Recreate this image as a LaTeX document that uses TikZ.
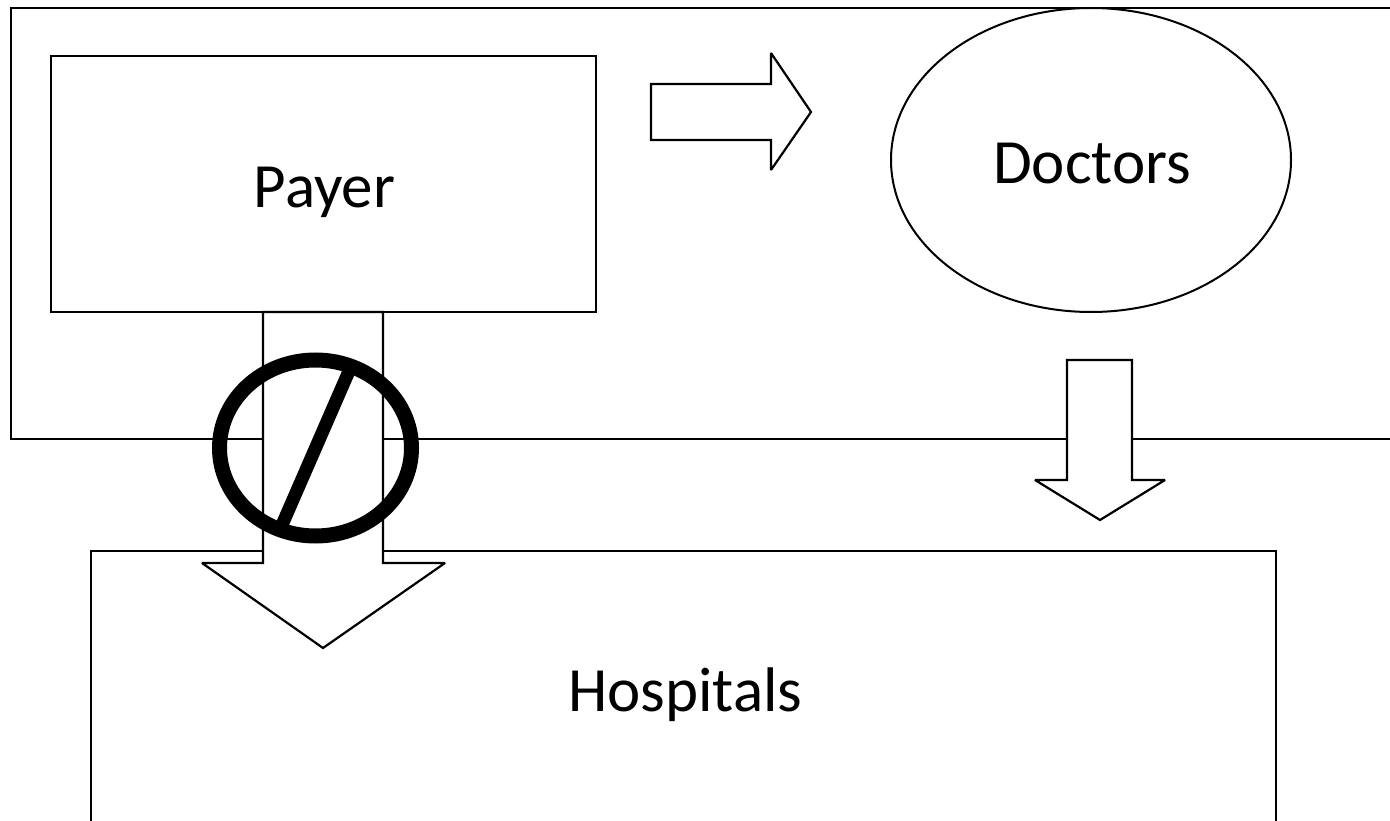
\documentclass[tikz,border=0pt]{standalone}
\usepackage{fontspec}
\setmainfont{Carlito}
\usetikzlibrary{shapes.geometric}
\newcommand{\dropby}[3]{\hspace*{#2pt}\raisebox{-#1pt}[0pt][0pt]{#3}}
\tikzset{
  box/.style={draw=black,line width=2.2pt,fill=white,rectangle,inner sep=0pt,font=\fontsize{63}{70}\selectfont},
  oval/.style={draw=black,line width=2pt,fill=white,ellipse,inner sep=0pt,font=\fontsize{63}{70}\selectfont},
  blockarrow/.style={draw=black,line width=2.2pt,fill=white,line join=miter,miter limit=3},
  forbid/.style={draw=black,line width=15pt}
}
\begin{document}
\begin{tikzpicture}[x=1pt,y=-1pt]
\useasboundingbox (0,0) rectangle (1390,821);
\clip (0,0) rectangle (1390,821);
\node[box,minimum width=1400pt,minimum height=431pt] (market) at (711,223.5) {};
\node[box,minimum width=1185pt,minimum height=278pt] (hospitals) at (683.5,690) {\dropby{21.5}{4}{Hospitals}};
\node[box,minimum width=545pt,minimum height=256pt] (payer) at (323.5,184) {\dropby{24}{2}{Payer}};
\node[oval,minimum width=400pt,minimum height=304pt] (doctors) at (1091,160) {\dropby{23.5}{2}{Doctors}};
\draw[blockarrow] (651,84) -- (771,84) -- (771,53) -- (811,112) -- (771,170) -- (771,140) -- (651,140) -- cycle;
\draw[blockarrow] (1067,360) -- (1132,360) -- (1132,480) -- (1165,480) -- (1100,520) -- (1035,480) -- (1067,480) -- cycle;
\draw[blockarrow] (263,312) -- (383,312) -- (383,563) -- (445,563) -- (323,648) -- (202,563) -- (263,563) -- cycle;
\node[forbid,ellipse,minimum width=192pt,minimum height=176pt,inner sep=0pt] (ban) at (315.5,448) {};
\coordinate (banTop) at (349.5,370);
\coordinate (banBottom) at (282,525);
\draw[draw=black,line width=13pt] (banTop) -- (banBottom);
\end{tikzpicture}
\end{document}
